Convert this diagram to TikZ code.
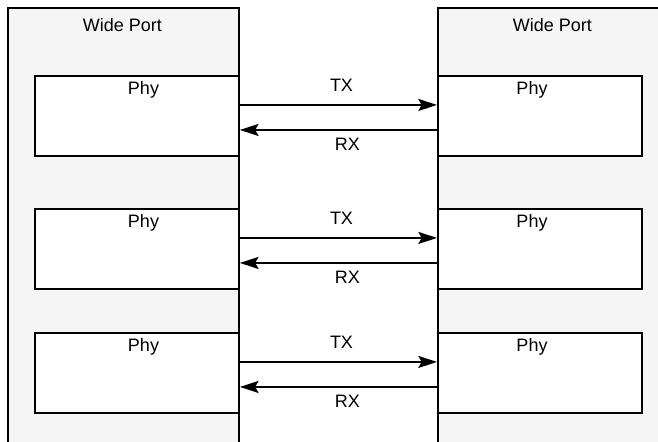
\documentclass[tikz,border=0pt]{standalone}
\usepackage{fontspec}
\setmainfont{Liberation Sans}
\usetikzlibrary{arrows.meta,positioning}

\begin{document}
\begin{tikzpicture}[x=0.75pt, y=-0.75pt, >={Stealth[length=14pt,width=9pt,inset=2.5pt]},
    port/.style={draw, line width=1.4pt, fill=black!4, minimum width=173.25pt, minimum height=340pt, anchor=north west, inner sep=0pt},
    phy/.style={draw, line width=1.4pt, fill=white, minimum width=153pt, minimum height=60pt, anchor=north west, inner sep=0pt},
    lbl/.style={font=\fontsize{13.5}{16}\selectfont, anchor=base, inner sep=0pt},
    link/.style={->, line width=1.4pt}]
    \useasboundingbox (0,0) rectangle (658,442);
    \clip (0,0) rectangle (658,442);
    % Wide ports
    \node[port] (lport) at (7,7) {};
    \node[port] (rport) at (437,7) {};
    \node[lbl] (lportlbl) at (122.5,32) {Wide Port};
    \node[lbl] (rportlbl) at (552.5,32) {Wide Port};
    % Phys with TX/RX links
    \foreach \i/\y in {1/75, 2/208, 3/332} {
        \node[phy] (lphy\i) at (34,\y) {};
        \node[phy] (rphy\i) at (437,\y) {};
        \node[lbl] (lphylbl\i) at (143.5,\y+20) {Phy};
        \node[lbl] (rphylbl\i) at (532,\y+20) {Phy};
        \draw[link] ([yshift=8.25pt]lphy\i.east) -- ([yshift=8.25pt]rphy\i.west);
        \draw[link] ([yshift=-10.5pt]rphy\i.west) -- ([yshift=-10.5pt]lphy\i.east);
        \node[lbl] (txlbl\i) at (341.5,\y+17) {TX};
        \node[lbl] (rxlbl\i) at (347.5,\y+76) {RX};
    }
\end{tikzpicture}
\end{document}
